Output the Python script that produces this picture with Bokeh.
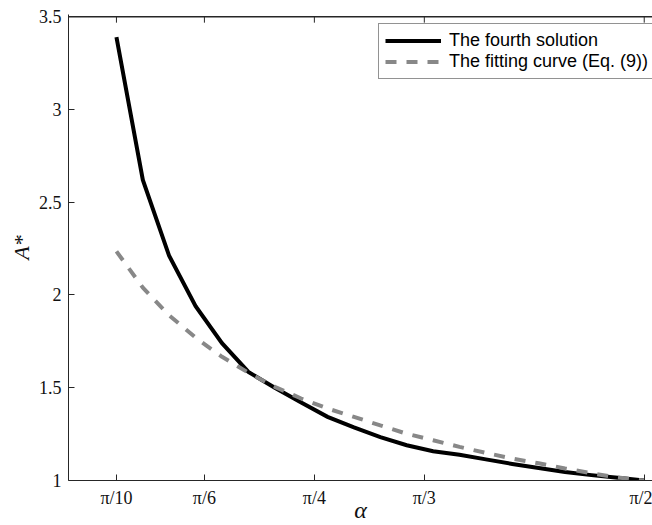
import numpy as np
from bokeh.plotting import figure
from bokeh.models import Range1d, FixedTicker, Legend, LegendItem
from bokeh.embed import file_html
from bokeh.resources import INLINE

# ---- data ----
alpha_steps = list(range(5, 26))              # alpha = k * pi / 50, from pi/10 to pi/2
alpha = [k * np.pi / 50 for k in alpha_steps]
fourth_solution = [3.39, 2.62, 2.21, 1.94, 1.74, 1.585, 1.50, 1.42, 1.343, 1.286,
                   1.234, 1.19, 1.158, 1.139, 1.114, 1.089, 1.067, 1.046, 1.029, 1.015, 1.0]
fitting_curve = [2.235, 2.04, 1.89, 1.77, 1.667, 1.581, 1.505, 1.442, 1.388, 1.343,
                 1.297, 1.252, 1.217, 1.181, 1.149, 1.118, 1.093, 1.065, 1.039, 1.016, 1.0]
x_ticks = [np.pi / 10, np.pi / 6, np.pi / 4, np.pi / 3, np.pi / 2]
x_tick_labels = ["π/10", "π/6", "π/4", "π/3", "π/2"]
y_ticks = [1, 1.5, 2, 2.5, 3, 3.5]
y_tick_labels = ["1", "1.5", "2", "2.5", "3", "3.5"]
series_names = ["The fourth solution", "The fitting curve (Eq. (9))"]
x_label = "α"
y_label = "A*"
x_min, x_max = 0.2, 1.5905
y_min, y_max = 1, 3.5

AX = "#262626"
SERIF = "Liberation Serif"
SANS = "Liberation Sans"
TICK_LEN = 0.032          # inward tick length along the top edge, in y units (~6 px)
TOP_PAD = 0.012           # small headroom so the top edge line lies inside the frame

p = figure(width=652, height=525,
           x_range=Range1d(x_min, x_max), y_range=Range1d(y_min, y_max + TOP_PAD),
           output_backend="svg", toolbar_location=None,
           min_border_left=68, min_border_right=0, min_border_top=14, min_border_bottom=45)
p.grid.visible = False
p.outline_line_color = None
p.background_fill_color = "white"
p.border_fill_color = "white"

# bottom axis
xa = p.xaxis[0]
xa.ticker = FixedTicker(ticks=x_ticks)
xa.major_label_overrides = dict(zip(x_ticks, x_tick_labels))
xa.minor_tick_line_color = None
xa.major_tick_in = 6
xa.major_tick_out = 0
xa.major_tick_line_color = AX
xa.axis_line_color = AX
xa.major_label_text_font = SERIF
xa.major_label_text_font_size = "18px"
xa.major_label_text_color = "#111111"
xa.major_label_standoff = 7
xa.axis_label = x_label
xa.axis_label_text_font = SERIF
xa.axis_label_text_font_style = "italic"
xa.axis_label_text_font_size = "24px"
xa.axis_label_text_color = "#111111"
xa.axis_label_standoff = -14

# left axis
ya = p.yaxis[0]
ya.ticker = FixedTicker(ticks=y_ticks)
ya.major_label_overrides = dict(zip(y_ticks, y_tick_labels))
ya.minor_tick_line_color = None
ya.major_tick_in = 6
ya.major_tick_out = 0
ya.major_tick_line_color = AX
ya.axis_line_color = AX
ya.major_label_text_font = SERIF
ya.major_label_text_font_size = "18px"
ya.major_label_text_color = "#111111"
ya.major_label_standoff = 7
ya.axis_label = y_label
ya.axis_label_text_font = SERIF
ya.axis_label_text_font_style = "italic"
ya.axis_label_text_font_size = "22px"
ya.axis_label_text_color = "#111111"
ya.axis_label_standoff = 2

# top edge of the box and its inward ticks
p.line(x=[x_min, x_max], y=[y_max, y_max], line_color=AX, line_width=1.3)
p.segment(x0=x_ticks, y0=[y_max] * len(x_ticks),
          x1=x_ticks, y1=[y_max - TICK_LEN] * len(x_ticks),
          line_color=AX, line_width=1)

r1 = p.line(alpha, fourth_solution, line_color="black", line_width=4, line_join="miter")
r2 = p.line(alpha, fitting_curve, line_color="#888888", line_width=4, line_dash="11 10")

legend = Legend(items=[LegendItem(label=series_names[0], renderers=[r1]),
                       LegendItem(label=series_names[1], renderers=[r2])],
                location=(310, 401), padding=6, spacing=0, margin=0,
                glyph_width=56, glyph_height=21, label_height=21, label_standoff=8,
                label_text_font=SANS, label_text_font_size="18px", label_text_color="black",
                border_line_color=AX, border_line_width=1,
                background_fill_color="white", background_fill_alpha=1)
p.add_layout(legend)

open("out.html", "w").write(file_html(p, INLINE))
